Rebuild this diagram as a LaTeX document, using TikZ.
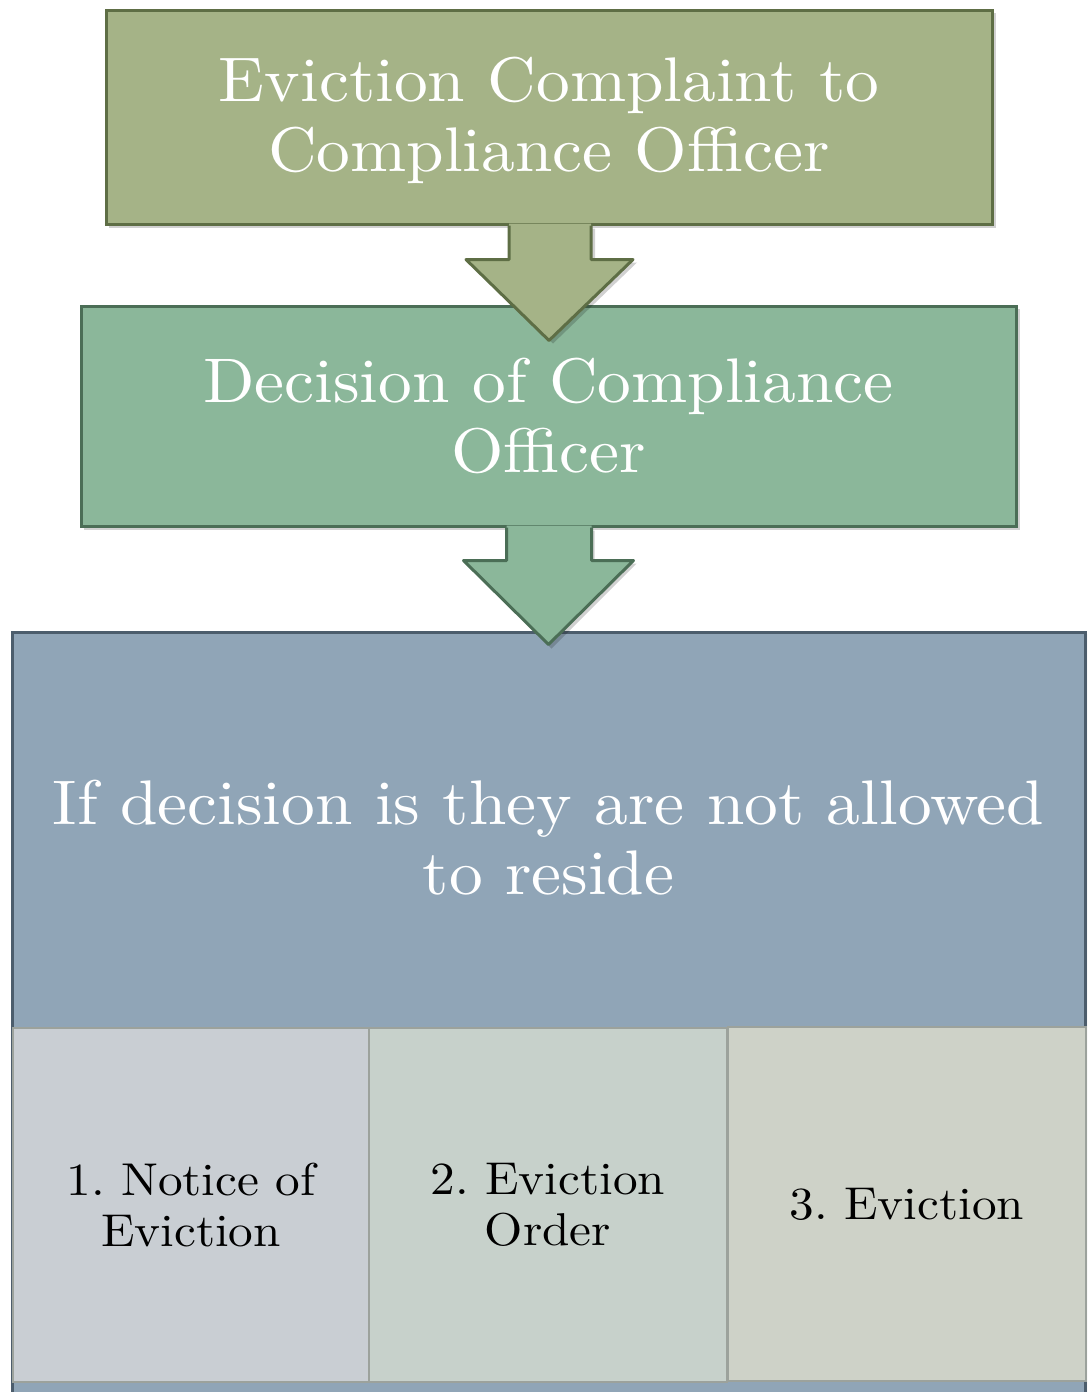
\documentclass[tikz,border=0pt]{standalone}
\usepackage{fontspec}
\setmainfont{lmroman10-regular.otf}[FakeStretch=1.07]
\usetikzlibrary{calc}
\definecolor{gfill}{HTML}{A5B387}
\definecolor{gline}{HTML}{5E6E45}
\definecolor{tfill}{HTML}{8BB79A}
\definecolor{tline}{HTML}{4B6E56}
\definecolor{bfill}{HTML}{90A5B7}
\definecolor{bline}{HTML}{4C5D6C}
\definecolor{afill}{HTML}{C9CED3}
\definecolor{cfill}{HTML}{C7D1CB}
\definecolor{dfill}{HTML}{CED2C8}
\definecolor{subline}{HTML}{9CA29C}
\frenchspacing
\tikzset{
  bigbox/.style={rectangle, inner sep=0pt, line width=3pt, text=white, align=center,
    font=\fontsize{63}{70}\selectfont},
  subbox/.style={rectangle, inner sep=0pt, line width=2pt, draw=subline, text=black, align=center,
    font=\fontsize{46}{51}\selectfont, minimum height=354pt},
  shade/.style={fill=black, opacity=0.18},
}
\begin{document}
\begin{tikzpicture}[x=1pt,y=-1pt]
\useasboundingbox (0,0) rectangle (1087,1392);
\clip (0,0) rectangle (1087,1392);
% shadows
\fill[shade] (109,13) rectangle (996,228);
\fill[shade] (84,309) rectangle (1020,530);
\fill[shade] (15,634) rectangle (1090,1400);
% box 1
\node[bigbox, draw=gline, fill=gfill, minimum width=886pt, minimum height=214pt] (b1) at (549,117) {};
\node[bigbox] (t1) at (549,120) {Eviction Complaint to\\Compliance Officer};
% box 2
\node[bigbox, draw=tline, fill=tfill, minimum width=935pt, minimum height=220pt] (b2) at (548.5,416)
  {Decision of Compliance\\Officer};
% arrow 1
\fill[shade] ($(b1.south)+(-37,3)$) -- ($(b1.south)+(-37,37)$) -- ($(b1.south)+(-79,37)$) -- ($(b1.south)+(4,118)$) -- ($(b1.south)+(88,37)$) -- ($(b1.south)+(46,37)$) -- ($(b1.south)+(46,3)$) -- cycle;
\fill[gfill] ($(b1.south)+(-40,-2)$) -- ($(b1.south)+(-40,34)$) -- ($(b1.south)+(-83,34)$) -- ($(b1.south)+(0,115)$) -- ($(b1.south)+(84,34)$) -- ($(b1.south)+(42,34)$) -- ($(b1.south)+(42,-2)$) -- cycle;
\draw[gline, line width=3pt, line join=round] ($(b1.south)+(-40,0)$) -- ($(b1.south)+(-40,34)$) -- ($(b1.south)+(-83,34)$) -- ($(b1.south)+(0,115)$) -- ($(b1.south)+(84,34)$) -- ($(b1.south)+(42,34)$) -- ($(b1.south)+(42,0)$);
% box 3
\node[bigbox, draw=bline, fill=bfill, minimum width=1073pt, minimum height=770pt, anchor=north] (b3) at (548.5,631) {};
\node[bigbox, anchor=center] (t3) at (548.5,838) {If decision is they are not allowed\\to reside};
% arrow 2
\fill[shade] ($(b2.south)+(-39,3)$) -- ($(b2.south)+(-39,36)$) -- ($(b2.south)+(-82,36)$) -- ($(b2.south)+(3,121)$) -- ($(b2.south)+(88,36)$) -- ($(b2.south)+(46,36)$) -- ($(b2.south)+(46,3)$) -- cycle;
\fill[tfill] ($(b2.south)+(-42,-2)$) -- ($(b2.south)+(-42,33)$) -- ($(b2.south)+(-85,33)$) -- ($(b2.south)+(0,117)$) -- ($(b2.south)+(85,33)$) -- ($(b2.south)+(43,33)$) -- ($(b2.south)+(43,-2)$) -- cycle;
\draw[tline, line width=3pt, line join=round] ($(b2.south)+(-42,0)$) -- ($(b2.south)+(-42,33)$) -- ($(b2.south)+(-85,33)$) -- ($(b2.south)+(0,117)$) -- ($(b2.south)+(85,33)$) -- ($(b2.south)+(43,33)$) -- ($(b2.south)+(43,0)$);
% sub boxes
\node[subbox, fill=afill, minimum width=356pt, anchor=north west] (s1) at (12,1027) {1. Notice of\\Eviction};
\node[subbox, fill=cfill, minimum width=358pt, anchor=north west] (s2) at (368,1027) {2. Eviction\\Order};
\node[subbox, fill=dfill, minimum width=358pt, anchor=north west] (s3) at (727,1026) {3. Eviction};
\end{tikzpicture}
\end{document}
